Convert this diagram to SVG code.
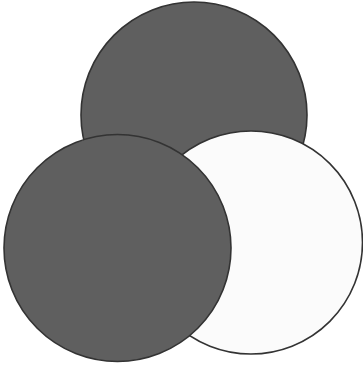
<svg xmlns="http://www.w3.org/2000/svg" width="363" height="369" viewBox="0 0 363 369">
<style>
.c{stroke:#333;stroke-width:1.6}
.d{fill:#5f5f5f}
.w{fill:#fbfbfb}
</style>
<rect width="363" height="369" fill="#fff"/>
<g id="top"><circle class="c d" cx="194" cy="115" r="113"/></g>
<g id="right"><circle class="c w" cx="251" cy="242.5" r="111.5"/></g>
<g id="left"><circle class="c d" cx="117.5" cy="248" r="113.5"/></g>
<g id="connectors"/>
</svg>
